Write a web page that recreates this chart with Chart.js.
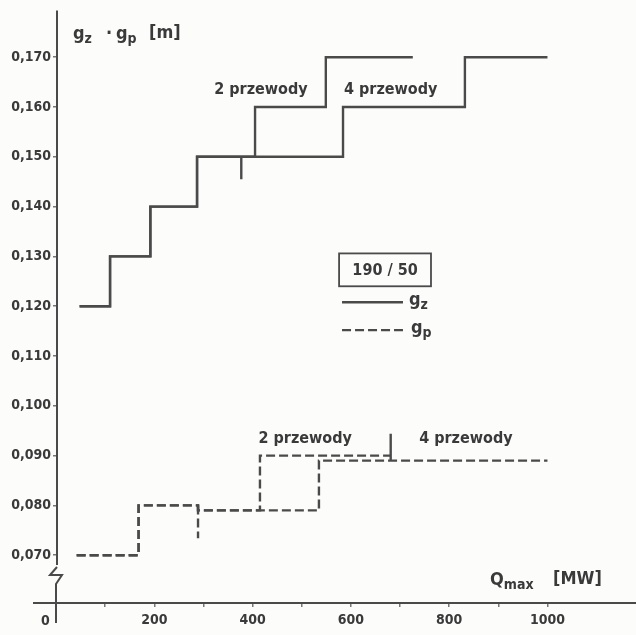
<!DOCTYPE html>
<html>
<head>
<meta charset="utf-8">
<script src="https://cdn.jsdelivr.net/npm/chart.js@4.4.1/dist/chart.umd.min.js"></script>
<style>
  html, body { margin: 0; padding: 0; background: #fcfcfb; }
  #wrap { width: 636px; height: 635px; }
</style>
</head>
<body>
<div id="wrap"><canvas id="wykres" width="636" height="635"></canvas></div>
<script>
// g_z – średnica zewnętrzna [m] w funkcji Q_max [MW]
const gz2Q = [48, 110, 192, 287, 405, 549, 726];
const gz2 = [0.120, 0.130, 0.140, 0.150, 0.160, 0.170, 0.170];
const gz4Q = [48, 110, 192, 287, 584, 832, 1000];
const gz4 = [0.120, 0.130, 0.140, 0.150, 0.160, 0.170, 0.170];

// g_p
const gp2Q = [42, 168, 289, 415, 681];
const gp2 = [0.070, 0.080, 0.079, 0.090, 0.090];
const gp4Q = [42, 168, 289, 535, 1000];
const gp4 = [0.070, 0.080, 0.079, 0.089, 0.089];

// krótkie znaczniki granic
const gzZnakQ = [377, 377];
const gzZnak = [0.150, 0.1455];
const gpZnak1Q = [289, 289];
const gpZnak1 = [0.080, 0.0734];
const gpZnak2Q = [681, 681];
const gpZnak2 = [0.089, 0.0944];

// osie
const yTicks = [0.070, 0.080, 0.090, 0.100, 0.110, 0.120, 0.130, 0.140, 0.150, 0.160, 0.170];
const qTicks = [200, 400, 600, 800, 1000];
const qMinor = [0, 100, 200, 300, 400, 500, 600, 700, 800, 900, 1000];

const KOLOR = '#4a4a4a';
const TEKST = '#3a3a3a';
const FONT = '"DejaVu Sans Condensed", "DejaVu Sans", sans-serif';

function punkty(xs, ys) {
    return xs.map((q, i) => ({ x: q, y: ys[i] }));
}

function linia(xs, ys, przerywana, schodki) {
    return {
        data: punkty(xs, ys),
        borderColor: KOLOR,
        borderWidth: 2.4,
        borderDash: przerywana ? [9, 4] : [],
        pointRadius: 0,
        stepped: schodki,
        fill: false
    };
}

// tekst z indeksami dolnymi: [['g', 0], ['z', 1], ...]
function napis(ctx, czesci, x, y, rozmiar) {
    let px = x;
    czesci.forEach(([t, sub]) => {
        const r = sub ? Math.round(rozmiar * 0.8) : rozmiar;
        ctx.font = `bold ${r}px ${FONT}`;
        ctx.fillText(t, px, y + (sub ? rozmiar * 0.3 : 0));
        px += ctx.measureText(t).width;
    });
}

const rysunek = {
    id: 'rysunek',
    afterDraw(chart) {
        const { ctx, chartArea, scales: { x, y } } = chart;
        const x0 = x.getPixelForValue(0);
        const dol = chartArea.bottom;
        ctx.save();
        ctx.strokeStyle = KOLOR;
        ctx.fillStyle = TEKST;
        ctx.lineWidth = 2;

        // oś Y z przerwaniem
        ctx.beginPath();
        ctx.moveTo(x0 + 1, chartArea.top);
        ctx.lineTo(x0 + 1, dol - 38);
        ctx.moveTo(x0 + 1, dol - 36);
        ctx.lineTo(x0 - 6, dol - 28);
        ctx.lineTo(x0 + 6, dol - 28);
        ctx.lineTo(x0, dol - 19);
        ctx.lineTo(x0, dol + 20);
        ctx.stroke();

        // oś X
        ctx.beginPath();
        ctx.moveTo(33, dol);
        ctx.lineTo(chart.width, dol);
        ctx.stroke();

        ctx.textBaseline = 'middle';
        ctx.textAlign = 'left';

        // zero na osi X
        ctx.font = `bold 14px ${FONT}`;
        ctx.fillText('0', x0 - 15, dol + 18);

        // tytuły osi
        napis(ctx, [['g', 0], ['z', 1]], 73, 34, 18);
        napis(ctx, [['·', 0]], 106, 34, 18);
        napis(ctx, [['g', 0], ['p', 1]], 116, 34, 18);
        napis(ctx, [['[m]', 0]], 149, 33, 18);
        napis(ctx, [['Q', 0], ['max', 1]], 490, 580, 18);
        napis(ctx, [['[MW]', 0]], 553, 579, 18);

        // opisy wariantów
        ctx.textAlign = 'center';
        ctx.font = `bold 16px ${FONT}`;
        ctx.fillText('2 przewody', x.getPixelForValue(417), y.getPixelForValue(0.1634));
        ctx.fillText('4 przewody', x.getPixelForValue(681), y.getPixelForValue(0.1634));
        ctx.fillText('2 przewody', x.getPixelForValue(507), y.getPixelForValue(0.0934));
        ctx.fillText('4 przewody', x.getPixelForValue(834), y.getPixelForValue(0.0934));

        // legenda
        const lx1 = x.getPixelForValue(576), lx2 = x.getPixelForValue(763);
        const ly1 = y.getPixelForValue(0.1306), ly2 = y.getPixelForValue(0.1240);
        ctx.lineWidth = 1.8;
        ctx.strokeRect(lx1, ly1, lx2 - lx1, ly2 - ly1);
        ctx.fillText('190 / 50', (lx1 + lx2) / 2, (ly1 + ly2) / 2 + 1);

        const sx1 = x.getPixelForValue(582), sx2 = x.getPixelForValue(706);
        ctx.lineWidth = 2.4;
        ctx.beginPath();
        ctx.moveTo(sx1, y.getPixelForValue(0.1208));
        ctx.lineTo(sx2, y.getPixelForValue(0.1208));
        ctx.stroke();
        ctx.setLineDash([9, 4]);
        ctx.beginPath();
        ctx.moveTo(sx1, y.getPixelForValue(0.1152));
        ctx.lineTo(sx2, y.getPixelForValue(0.1152));
        ctx.stroke();
        ctx.setLineDash([]);
        ctx.textAlign = 'left';
        napis(ctx, [['g', 0], ['z', 1]], sx2 + 6, y.getPixelForValue(0.1208) - 2, 18);
        napis(ctx, [['g', 0], ['p', 1]], sx2 + 8, y.getPixelForValue(0.1152) - 2, 18);
        ctx.restore();
    }
};

new Chart(document.getElementById('wykres'), {
    type: 'line',
    data: {
        datasets: [
            linia(gz2Q, gz2, false, true),
            linia(gz4Q, gz4, false, true),
            linia(gp2Q, gp2, true, true),
            linia(gp4Q, gp4, true, true),
            linia(gzZnakQ, gzZnak, false, false),
            linia(gpZnak1Q, gpZnak1, true, false),
            linia(gpZnak2Q, gpZnak2, false, false)
        ]
    },
    options: {
        responsive: false,
        animation: false,
        devicePixelRatio: 1,
        layout: { padding: { top: 8, right: 4, left: 0, bottom: 0 } },
        plugins: { legend: { display: false }, tooltip: { enabled: false } },
        scales: {
            x: {
                type: 'linear',
                min: 0,
                max: 1172,
                afterBuildTicks: s => { s.ticks = qMinor.map(v => ({ value: v })); },
                afterFit: s => { s.height = 32; },
                border: { display: false },
                grid: { drawOnChartArea: false, drawTicks: true, tickLength: 4, tickColor: '#777', lineWidth: 1.5 },
                ticks: {
                    autoSkip: false,
                    maxRotation: 0,
                    padding: 5,
                    color: TEKST,
                    font: { family: FONT, size: 14, weight: 'bold' },
                    callback: v => qTicks.includes(v) ? String(v) : ''
                }
            },
            y: {
                type: 'linear',
                min: 0.0604,
                max: 0.1794,
                afterBuildTicks: s => { s.ticks = yTicks.map(v => ({ value: v })); },
                afterFit: s => { s.width = 56; },
                border: { display: false },
                grid: { drawOnChartArea: false, drawTicks: true, tickLength: 3, tickColor: '#777', lineWidth: 1.5 },
                ticks: {
                    autoSkip: false,
                    padding: 2,
                    color: TEKST,
                    font: { family: FONT, size: 14, weight: 'bold' },
                    callback: v => v.toFixed(3).replace('.', ',')
                }
            }
        }
    },
    plugins: [rysunek]
});
</script>
</body>
</html>
